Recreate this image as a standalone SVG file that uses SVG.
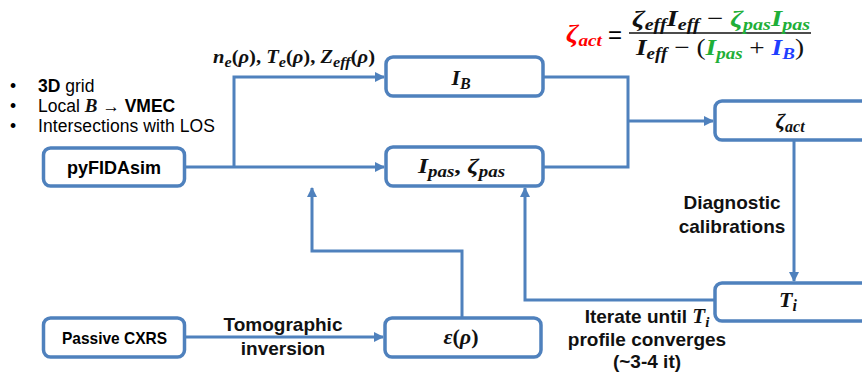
<svg xmlns="http://www.w3.org/2000/svg" width="862" height="379" viewBox="0 0 862 379">
  <style>
    .box { fill: #ffffff; stroke: #4F81BD; stroke-width: 3.5; }
    .wire { fill: none; stroke: #4F81BD; stroke-width: 3; }
    .sans { font-family: "Liberation Sans", Arial, sans-serif; fill: #000; }
    .lbl { font-family: "Liberation Sans", Arial, sans-serif; font-weight: bold; font-size: 19px; fill: #111; text-anchor: middle; }
    .math { font-family: "Liberation Serif", "Times New Roman", serif; font-weight: bold; font-style: italic; fill: #111; }
    .up { font-style: normal; font-weight: bold; }
    .sub { font-size: 15px; }
    .red { fill: #FF0000; }
    .grn { fill: #1FAF38; }
    .blu { fill: #1F3FFF; }
  </style>
  <defs>
    <marker id="arrow" viewBox="0 0 10 10" refX="9" refY="5" markerWidth="3.4" markerHeight="3.4" orient="auto" markerUnits="strokeWidth">
      <path d="M0,0 L10,5 L0,10 z" fill="#4F81BD"/>
    </marker>
  </defs>

  <!-- bullet list -->
  <g id="notes" class="sans" font-size="17.5">
    <text x="10" y="92">•</text>
    <text x="38" y="92"><tspan font-weight="bold">3D</tspan> grid</text>
    <text x="10" y="112">•</text>
    <text x="38" y="112">Local <tspan class="math" font-size="19">B</tspan> → <tspan font-weight="bold">VMEC</tspan></text>
    <text x="10" y="132">•</text>
    <text x="38" y="132" textLength="177">Intersections with LOS</text>
  </g>

  <!-- connectors -->
  <g id="connectors">
    <path class="wire" d="M185,167 H384" marker-end="url(#arrow)"/>
    <path class="wire" d="M234,167 V77 H384" marker-end="url(#arrow)"/>
    <path class="wire" d="M543,77 H628 V167 H543"/>
    <path class="wire" d="M628,121 H713" marker-end="url(#arrow)"/>
    <path class="wire" d="M794,140 V281" marker-end="url(#arrow)"/>
    <path class="wire" d="M715,300 H525 V188" marker-end="url(#arrow)"/>
    <path class="wire" d="M462,318 V251 H312 V188" marker-end="url(#arrow)"/>
    <path class="wire" d="M185,337 H383" marker-end="url(#arrow)"/>
  </g>

  <!-- connector labels -->
  <g id="labels">
    <text class="math" font-size="19" x="213" y="63" textLength="162" lengthAdjust="spacingAndGlyphs">n<tspan class="sub" dy="4">e</tspan><tspan class="up" dy="-4">(</tspan>ρ<tspan class="up">),</tspan> T<tspan class="sub" dy="4">e</tspan><tspan class="up" dy="-4">(</tspan>ρ<tspan class="up">),</tspan> Z<tspan class="sub" dy="4">eff</tspan><tspan class="up" dy="-4">(</tspan>ρ<tspan class="up">)</tspan></text>
    <text class="lbl" x="283" y="331">Tomographic</text>
    <text class="lbl" x="283" y="355">inversion</text>
    <text class="lbl" x="732" y="209">Diagnostic</text>
    <text class="lbl" x="732" y="233">calibrations</text>
    <text class="lbl" x="647" y="323">Iterate until <tspan class="math" font-size="21">T</tspan><tspan class="math sub" dy="4">i</tspan></text>
    <text class="lbl" x="647" y="346">profile converges</text>
    <text class="lbl" x="647" y="368">(~3-4 it)</text>
  </g>

  <!-- formula -->
  <g id="formula">
    <text class="math red" font-size="25" x="566" y="42" textLength="36" lengthAdjust="spacingAndGlyphs">ζ<tspan class="sub" style="font-size:17px" dy="4">act</tspan></text>
    <text class="sans" font-size="24" x="608" y="43" fill="#111">=</text>
    <line x1="629" y1="33" x2="811" y2="33" stroke="#111" stroke-width="1.6"/>
    <text class="math" font-size="23" x="632" y="26" textLength="178" lengthAdjust="spacingAndGlyphs">ζ<tspan class="sub" style="font-size:16px" dy="4">eff</tspan><tspan dy="-4">I</tspan><tspan class="sub" style="font-size:16px" dy="4">eff</tspan><tspan class="up" style="font-weight:normal" dy="-4"> − </tspan><tspan class="grn">ζ</tspan><tspan class="sub grn" style="font-size:16px" dy="4">pas</tspan><tspan class="grn" dy="-4">I</tspan><tspan class="sub grn" style="font-size:16px" dy="4">pas</tspan></text>
    <text class="math" font-size="23" x="636" y="55" textLength="168" lengthAdjust="spacingAndGlyphs">I<tspan class="sub" style="font-size:16px" dy="4">eff</tspan><tspan class="up" style="font-weight:normal" dy="-4"> − (</tspan><tspan class="grn">I</tspan><tspan class="sub grn" style="font-size:16px" dy="4">pas</tspan><tspan class="up" style="font-weight:normal" dy="-4"> + </tspan><tspan class="blu">I</tspan><tspan class="sub blu" style="font-size:16px" dy="4">B</tspan><tspan class="up" style="font-weight:normal" dy="-4">)</tspan></text>
  </g>

  <!-- nodes -->
  <g id="pyfidasim">
    <rect class="box" x="43.5" y="148" width="141" height="38" rx="7"/>
    <text class="sans" font-weight="bold" font-size="18" x="114" y="174" text-anchor="middle">pyFIDAsim</text>
  </g>
  <g id="passive-cxrs">
    <rect class="box" x="43.5" y="318" width="141" height="39" rx="7"/>
    <text class="sans" font-weight="bold" font-size="17" x="62" y="344" textLength="105" lengthAdjust="spacingAndGlyphs">Passive CXRS</text>
  </g>
  <g id="i-b">
    <rect class="box" x="386" y="57" width="157" height="39" rx="7"/>
    <text class="math" font-size="22" x="461" y="85" text-anchor="middle">I<tspan class="sub" style="font-size:16px" dy="4">B</tspan></text>
  </g>
  <g id="i-pas">
    <rect class="box" x="386" y="147" width="157" height="39" rx="7"/>
    <text class="math" font-size="22" x="418" y="173" textLength="87" lengthAdjust="spacingAndGlyphs">I<tspan class="sub" style="font-size:16px" dy="4">pas</tspan><tspan class="up" dy="-4">, </tspan>ζ<tspan class="sub" style="font-size:16px" dy="4">pas</tspan></text>
  </g>
  <g id="epsilon">
    <rect class="box" x="385" y="318" width="156" height="39" rx="7"/>
    <text class="math" font-size="22" x="461" y="344" text-anchor="middle">ε<tspan class="up">(</tspan>ρ<tspan class="up">)</tspan></text>
  </g>
  <g id="zeta-act">
    <rect class="box" x="715" y="101" width="165" height="39" rx="7"/>
    <text class="math" font-size="22" x="790" y="128" text-anchor="middle">ζ<tspan class="sub" style="font-size:16px" dy="4">act</tspan></text>
  </g>
  <g id="t-i">
    <rect class="box" x="715" y="283" width="165" height="38" rx="7"/>
    <text class="math" font-size="22" x="788" y="307" text-anchor="middle">T<tspan class="sub" style="font-size:16px" dy="4">i</tspan></text>
  </g>
</svg>
